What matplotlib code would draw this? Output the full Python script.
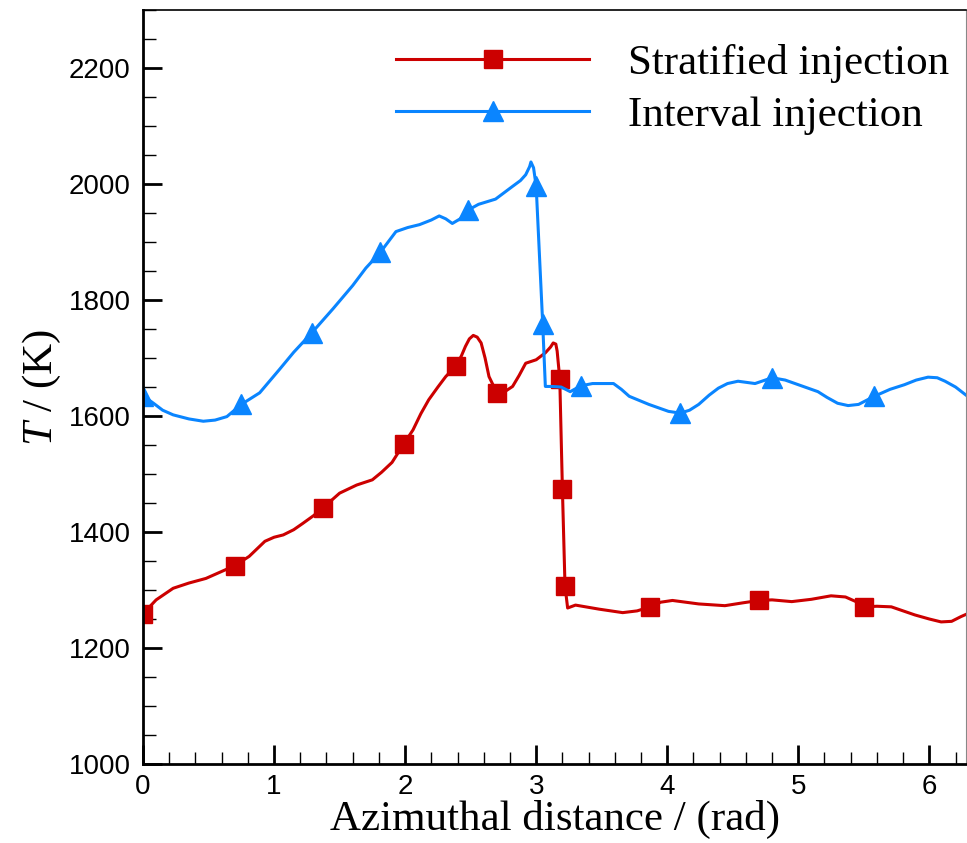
import matplotlib
matplotlib.use("Agg")
import matplotlib.pyplot as plt
from matplotlib.ticker import MultipleLocator

# stratified injection: temperature (K) vs azimuthal distance (rad)
strat_x = [0.0, 0.10, 0.23, 0.35, 0.48, 0.60, 0.70, 0.81, 0.93, 1.00, 1.07, 1.15, 1.22, 1.30,
           1.37, 1.50, 1.63, 1.75, 1.82, 1.90, 1.99, 2.06, 2.12, 2.18, 2.25, 2.31, 2.39, 2.43,
           2.46, 2.49, 2.52, 2.55, 2.58, 2.61, 2.64, 2.70, 2.76, 2.82, 2.87, 2.92, 3.00, 3.07,
           3.11, 3.13, 3.15, 3.16, 3.18, 3.20, 3.22, 3.24, 3.30, 3.48, 3.66, 3.77, 3.87, 3.95,
           4.04, 4.24, 4.44, 4.58, 4.70, 4.80, 4.95, 5.10, 5.25, 5.36, 5.44, 5.50, 5.60, 5.71,
           5.80, 5.89, 6.00, 6.09, 6.17, 6.24, 6.28]
strat_T = [1259, 1283, 1303, 1312, 1320, 1332, 1342, 1358, 1384, 1391, 1395, 1404, 1415, 1428,
           1441, 1467, 1481, 1490, 1503, 1520, 1552, 1576, 1604, 1628, 1650, 1668, 1687, 1704,
           1720, 1733, 1739, 1736, 1726, 1700, 1668, 1640, 1642, 1651, 1670, 1691, 1697, 1709,
           1719, 1726, 1724, 1712, 1664, 1475, 1307, 1269, 1274, 1267, 1261, 1264, 1271, 1279,
           1282, 1276, 1273, 1278, 1282, 1283, 1280, 1284, 1290, 1288, 1280, 1271, 1272, 1271,
           1264, 1257, 1250, 1245, 1246, 1254, 1258]
strat_marks = [0.0, 0.70, 1.37, 1.99, 2.39, 2.70, 3.18, 3.20, 3.22, 3.87, 4.70, 5.50]

# interval injection
inter_x = [0.0, 0.08, 0.15, 0.23, 0.35, 0.46, 0.55, 0.64, 0.75, 0.89, 1.04, 1.15, 1.29, 1.45,
           1.60, 1.70, 1.81, 1.87, 1.93, 2.02, 2.11, 2.20, 2.26, 2.31, 2.36, 2.42, 2.48, 2.56,
           2.69, 2.82, 2.88, 2.92, 2.95, 2.96, 2.98, 3.00, 3.05, 3.07, 3.12, 3.19, 3.26, 3.34,
           3.43, 3.59, 3.65, 3.71, 3.86, 4.01, 4.10, 4.17, 4.24, 4.32, 4.39, 4.46, 4.54, 4.67,
           4.80, 4.90, 5.00, 5.15, 5.22, 5.30, 5.38, 5.46, 5.58, 5.70, 5.81, 5.90, 5.99, 6.06,
           6.12, 6.20, 6.28]
inter_T = [1635, 1622, 1610, 1602, 1595, 1591, 1593, 1599, 1620, 1640, 1680, 1710, 1744, 1785,
           1825, 1855, 1882, 1900, 1918, 1925, 1930, 1938, 1945, 1940, 1932, 1940, 1955, 1965,
           1974, 1996, 2006, 2016, 2030, 2038, 2028, 1996, 1758, 1651, 1651, 1650, 1642, 1652,
           1656, 1656, 1646, 1634, 1620, 1608, 1605, 1610, 1620, 1636, 1648, 1656, 1660, 1656,
           1666, 1662, 1654, 1642, 1632, 1622, 1618, 1620, 1634, 1646, 1654, 1662, 1667, 1666,
           1660, 1650, 1636]
inter_marks = [0.0, 0.75, 1.29, 1.81, 2.48, 3.00, 3.05, 3.34, 4.10, 4.80, 5.58]

labels = ["Stratified injection", "Interval injection"]
red = "#cc0000"
blue = "#0a85ff"

plt.rcParams["font.family"] = ["Liberation Sans", "DejaVu Sans"]
plt.rcParams["mathtext.fontset"] = "custom"
plt.rcParams["mathtext.it"] = "Liberation Serif:italic"
plt.rcParams["mathtext.rm"] = "Liberation Serif"

fig = plt.figure(figsize=(9.67, 8.43), dpi=100)
ax = fig.add_axes([0.1479, 0.0937, 0.8511, 0.8944])

ax.plot(strat_x, strat_T, color=red, lw=2.2, marker="s", ms=13.5,
        markevery=[strat_x.index(v) for v in strat_marks], label=labels[0])
ax.plot(inter_x, inter_T, color=blue, lw=2.2, marker="^", ms=15,
        markevery=[inter_x.index(v) for v in inter_marks], label=labels[1])

ax.set_xlim(0, 6.28)
ax.set_ylim(1000, 2300)
ax.xaxis.set_major_locator(MultipleLocator(1))
ax.xaxis.set_minor_locator(MultipleLocator(0.2))
ax.yaxis.set_major_locator(MultipleLocator(200))
ax.yaxis.set_minor_locator(MultipleLocator(50))
ax.tick_params(which="both", direction="in", top=False, right=False, labelsize=20)
ax.tick_params(which="major", length=14, width=2)
ax.tick_params(which="minor", length=9, width=1)
ax.tick_params(axis="y", pad=9)
ax.tick_params(axis="x", pad=7)

ax.spines["left"].set_linewidth(2)
ax.spines["bottom"].set_linewidth(2)
ax.spines["top"].set_linewidth(1.2)
ax.spines["right"].set_linewidth(0.8)
ax.spines["right"].set_color("#888888")

serif = ["Liberation Serif", "DejaVu Serif"]
ax.set_xlabel("Azimuthal distance / (rad)", fontsize=31, family=serif, labelpad=0)
ax.set_ylabel(r"$\mathit{T}$ / (K)", fontsize=31, family=serif)
ax.yaxis.set_label_coords(-0.097, 0.5)

ax.legend(loc="upper left", bbox_to_anchor=(0.307, 0.955), frameon=False,
          prop={"family": serif, "size": 31}, handlelength=4.5, handletextpad=0.9,
          labelspacing=0.3, borderpad=0, borderaxespad=0)

fig.savefig("out.png", dpi=100)
